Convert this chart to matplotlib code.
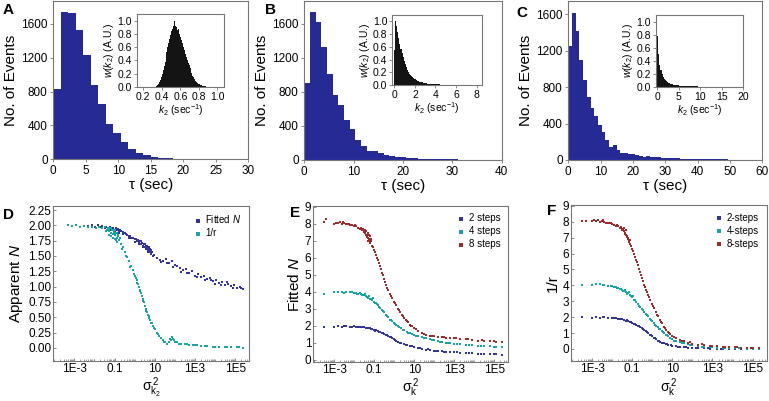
import numpy as np
import matplotlib
matplotlib.use('Agg')
import matplotlib.pyplot as plt
from matplotlib.ticker import LogLocator, FixedLocator, NullFormatter

plt.rcParams['font.family'] = ['Liberation Sans', 'DejaVu Sans']
plt.rcParams['mathtext.fontset'] = 'custom'
plt.rcParams['mathtext.rm'] = 'Liberation Sans'
plt.rcParams['mathtext.it'] = 'Liberation Sans:italic'

# --- top row: dwell time histograms (bin width in sec) ---
BIN_W = 1.15
counts_a = [835, 1737, 1725, 1533, 1227, 874, 659, 423, 306, 208, 122, 71, 47, 31, 20,
            12, 8, 5, 3, 2]
counts_b = [900, 1735, 1620, 1330, 1015, 760, 650, 470, 370, 240, 165, 110, 100, 80, 60,
            47, 40, 30, 24, 20, 17, 14, 12, 10, 8, 7, 6, 5, 5, 4, 3, 3, 2, 2, 2]
counts_c = [1254, 1611, 1411, 1098, 873, 691, 575, 480, 382, 309, 218, 145, 164, 109, 80,
            73, 65, 65, 55, 44, 36, 44, 33, 29, 29, 25, 22, 22, 18, 18, 15, 14, 12, 12,
            10, 10, 9, 8, 8, 7, 7, 6, 6, 5, 5, 5, 4, 4, 4, 3, 3, 3]

# --- insets: k2 distributions (start, bin width, heights) ---
k2_a_start, k2_a_w = 0.34, 0.01
k2_a = [0.01, 0.02, 0.04, 0.07, 0.10, 0.14, 0.19, 0.25, 0.31, 0.38,
        0.45, 0.53, 0.60, 0.66, 0.72, 0.79, 0.84, 0.88, 0.93, 1.00,
        0.92, 0.90, 0.86, 0.88, 0.84, 0.80, 0.76, 0.71, 0.66, 0.61,
        0.56, 0.50, 0.45, 0.40, 0.36, 0.33, 0.29, 0.25, 0.21, 0.17,
        0.14, 0.11, 0.09, 0.07, 0.055, 0.045, 0.035, 0.028, 0.022, 0.016,
        0.012, 0.008, 0.006, 0.004]
k2_b_start, k2_b_w = 0.0, 0.1
k2_b = [0.55, 1.0, 0.93, 0.84, 0.74, 0.65, 0.57, 0.5, 0.44, 0.38,
        0.33, 0.28, 0.24, 0.21, 0.18, 0.16, 0.14, 0.12, 0.11, 0.1,
        0.09, 0.08, 0.07, 0.06, 0.055, 0.05, 0.045, 0.04, 0.035, 0.032,
        0.029, 0.026, 0.023, 0.021, 0.019, 0.017, 0.015, 0.014, 0.013, 0.012,
        0.011, 0.01, 0.009, 0.009, 0.008, 0.007, 0.007, 0.006, 0.006, 0.005,
        0.005, 0.005, 0.004, 0.004, 0.004, 0.003, 0.003, 0.003, 0.003, 0.002]
k2_c_start, k2_c_w = 0.0, 0.25
k2_c = [0.78, 0.5, 0.34, 0.25, 0.19, 0.15, 0.12, 0.1, 0.085, 0.072,
        0.062, 0.054, 0.047, 0.041, 0.036, 0.032, 0.028, 0.025, 0.022, 0.02,
        0.018, 0.016, 0.014, 0.013, 0.012, 0.011, 0.01, 0.009, 0.008, 0.007,
        0.007, 0.006, 0.006, 0.005, 0.005, 0.004, 0.004, 0.004, 0.003, 0.003]

# --- panel D: log10(sigma^2) and values ---
d_fit_logx = [-2.3, -2.1, -1.95, -1.8, -1.7, -1.6, -1.5, -1.45, -1.35, -1.25,
              -1.15, -1.1, -1.0, -0.95, -0.9, -0.85, -0.8, -0.75, -0.7, -0.6,
              -0.5, -0.45, -0.4, -0.3, -0.25, -0.2, -0.1, 0.0, 0.05, 0.1,
              0.15, 0.2, 0.25, 0.3, 0.35, 0.4, 0.45, 0.5, 0.55, 0.6,
              0.62, 0.65, 0.68, 0.7, 0.72, 0.75, 0.78, 0.8, 0.85, 0.95,
              1.1, 1.25, 1.4, 1.55, 1.7, 1.85, 2.0, 2.1, 2.25, 2.4,
              2.55, 2.7, 2.85, 3.0, 3.15, 3.3, 3.45, 3.6, 3.75, 3.9,
              4.05, 4.2, 4.35, 4.5, 4.65, 4.8, 4.95, 5.1, 5.25, 5.4,
              -1.2, -1.0, -0.8, -0.6, -0.3, 0.0, 0.2, 0.3, 0.4, 0.5,
              0.55, 0.6, 0.65, 0.7, 0.75, 0.8, 0.82, 0.85, 0.9, 1.3,
              1.6, 1.9, 2.3, 2.6, 3.1, 3.5, 3.8, 4.0, 4.3, 4.6,
              4.9, 5.3]
d_fit_n = [1.99, 2.01, 1.98, 2.0, 1.97, 1.99, 1.96, 1.98, 1.95, 1.97,
           1.94, 1.96, 1.93, 1.95, 1.92, 1.94, 1.9, 1.93, 1.9, 1.89,
           1.87, 1.86, 1.85, 1.83, 1.82, 1.8, 1.79, 1.77, 1.78, 1.75,
           1.76, 1.72, 1.74, 1.7, 1.71, 1.67, 1.69, 1.65, 1.66, 1.62,
           1.64, 1.6, 1.62, 1.58, 1.6, 1.56, 1.58, 1.55, 1.56, 1.52,
           1.47, 1.44, 1.42, 1.45, 1.38, 1.41, 1.35, 1.33, 1.3, 1.27,
           1.29, 1.22, 1.25, 1.18, 1.2, 1.15, 1.17, 1.12, 1.14, 1.09,
           1.11, 1.06, 1.08, 1.03, 1.05, 1.01, 1.02, 0.98, 0.99, 0.96,
           1.93, 1.91, 1.88, 1.86, 1.8, 1.73, 1.7, 1.74, 1.64, 1.7,
           1.62, 1.67, 1.57, 1.65, 1.62, 1.53, 1.6, 1.57, 1.5, 1.4,
           1.38, 1.32, 1.24, 1.22, 1.16, 1.1, 1.11, 1.05, 1.03, 1.07,
           0.98, 0.97]
d_inv_logx = [-3.3, -3.1, -2.9, -2.7, -2.5, -2.3, -2.1, -1.9, -1.75, -1.6,
              -1.5, -1.4, -1.35, -1.3, -1.25, -1.2, -1.15, -1.1, -1.05, -1.0,
              -0.95, -0.9, -0.85, -0.8, -0.75, -0.7, -0.6, -0.5, -0.4, -0.3,
              -0.2, -0.1, 0.0, 0.05, 0.1, 0.15, 0.2, 0.25, 0.3, 0.35,
              0.4, 0.45, 0.5, 0.55, 0.6, 0.65, 0.7, 0.75, 0.8, 0.9,
              1.0, 1.1, 1.2, 1.3, 1.4, 1.5, 1.6, 1.7, 1.8, 1.9,
              2.0, 2.1, 2.3, 2.5, 2.7, 2.9, 3.1, 3.3, 3.6, 3.9,
              4.2, 4.5, 4.8, 5.1, 5.4,
              -1.45, -1.3, -1.28, -1.2, -1.18, -1.1, -1.08, -1.02, -1.0, -0.98,
              -0.92, -0.9, -0.88, -0.82, -0.65, -0.45, -0.25, -0.05, 0.12, 0.28,
              0.42, 0.58, 0.72, 0.85, 0.95, 1.15, 1.45, 1.75, 1.85, 1.95,
              2.2, 2.6, 3.0, 3.5, 4.0, 4.6, 5.2]
d_inv_r = [2.0, 1.99, 2.0, 1.98, 1.99, 1.97, 1.98, 1.96, 1.97, 1.95,
           1.97, 1.93, 1.96, 1.9, 1.95, 1.88, 1.93, 1.86, 1.91, 1.84,
           1.88, 1.8, 1.85, 1.76, 1.8, 1.7, 1.64, 1.56, 1.48, 1.41,
           1.34, 1.27, 1.18, 1.14, 1.1, 1.05, 1.0, 0.95, 0.9, 0.84,
           0.79, 0.74, 0.68, 0.63, 0.58, 0.53, 0.49, 0.45, 0.41, 0.35,
           0.3, 0.25, 0.2, 0.16, 0.12, 0.09, 0.07, 0.1, 0.13, 0.15,
           0.1, 0.09, 0.07, 0.06, 0.05, 0.05, 0.04, 0.03, 0.03, 0.02,
           0.02, 0.01, 0.01, 0.01, 0.0,
           1.9, 1.94, 1.85, 1.96, 1.82, 1.92, 1.8, 1.88, 1.78, 1.93,
           1.76, 1.87, 1.73, 1.82, 1.62, 1.5, 1.32, 1.2, 1.06, 0.93,
           0.76, 0.6, 0.52, 0.4, 0.32, 0.22, 0.1, 0.14, 0.17, 0.12,
           0.07, 0.06, 0.05, 0.03, 0.02, 0.01, 0.01]

# --- panel E: fitted N for 2/4/8 steps ---
e_2_logx = [-3.5, -3.0, -2.8, -2.6, -2.4, -2.2, -2.0, -1.9, -1.8, -1.7,
            -1.6, -1.5, -1.4, -1.3, -1.2, -1.1, -1.0, -0.9, -0.8, -0.7,
            -0.6, -0.5, -0.4, -0.3, -0.2, -0.1, 0.0, 0.1, 0.2, 0.35,
            0.5, 0.65, 0.8, 1.0, 1.2, 1.4, 1.6, 1.8, 2.0, 2.2,
            2.4, 2.6, 2.8, 3.0, 3.3, 3.6, 3.9, 4.2, 4.5, 4.8,
            5.1, 5.4,
            -2.5, -2.1, -1.65, -1.35, -1.15, -0.95, -0.75, -0.55, -0.35, -0.15,
            0.05, 0.3, 0.6, 0.9, 1.3, 1.7, 2.1, 2.5, 3.15, 3.75,
            4.35, 5.0]
e_2steps = [1.9, 1.92, 1.95, 1.93, 1.96, 1.94, 1.95, 1.93, 1.94, 1.91,
            1.92, 1.89, 1.88, 1.85, 1.83, 1.79, 1.76, 1.72, 1.67, 1.62,
            1.56, 1.5, 1.44, 1.38, 1.32, 1.25, 1.18, 1.12, 1.06, 0.98,
            0.91, 0.85, 0.8, 0.74, 0.68, 0.64, 0.59, 0.56, 0.53, 0.5,
            0.48, 0.46, 0.45, 0.43, 0.41, 0.39, 0.37, 0.35, 0.33, 0.31,
            0.3, 0.28,
            1.97, 1.91, 1.9, 1.84, 1.8, 1.7, 1.62, 1.55, 1.42, 1.3,
            1.14, 1.0, 0.88, 0.78, 0.66, 0.6, 0.51, 0.47, 0.42, 0.38,
            0.34, 0.3]
e_4_logx = [-3.5, -3.0, -2.8, -2.6, -2.4, -2.2, -2.0, -1.9, -1.8, -1.7,
            -1.6, -1.5, -1.4, -1.3, -1.2, -1.1, -1.0, -0.9, -0.8, -0.7,
            -0.6, -0.5, -0.4, -0.3, -0.2, -0.1, 0.0, 0.1, 0.2, 0.35,
            0.5, 0.65, 0.8, 1.0, 1.2, 1.4, 1.6, 1.8, 2.0, 2.2,
            2.4, 2.6, 2.8, 3.0, 3.3, 3.6, 3.9, 4.2, 4.5, 4.8,
            5.1, 5.4,
            -2.5, -2.1, -1.85, -1.65, -1.55, -1.45, -1.35, -1.25, -1.15, -1.05,
            -0.95, -0.85, -0.75, -0.55, -0.35, -0.15, 0.05, 0.25, 0.45, 0.7,
            0.9, 1.1, 1.5, 1.9, 2.3, 2.7, 3.15, 3.75, 4.35, 5.0]
e_4steps = [3.88, 3.98, 3.96, 3.99, 3.95, 3.97, 3.92, 3.94, 3.88, 3.9,
            3.82, 3.78, 3.72, 3.65, 3.58, 3.5, 3.4, 3.3, 3.18, 3.05,
            2.92, 2.78, 2.62, 2.48, 2.35, 2.24, 2.14, 2.04, 1.95, 1.83,
            1.72, 1.62, 1.54, 1.45, 1.36, 1.3, 1.24, 1.18, 1.13, 1.08,
            1.04, 1.0, 0.97, 0.94, 0.9, 0.87, 0.84, 0.81, 0.79, 0.77,
            0.75, 0.73,
            3.93, 3.96, 3.85, 3.88, 3.8, 3.84, 3.7, 3.74, 3.55, 3.62,
            3.35, 3.25, 3.1, 2.85, 2.55, 2.3, 2.1, 1.9, 1.75, 1.58,
            1.5, 1.4, 1.27, 1.15, 1.06, 0.98, 0.92, 0.85, 0.8, 0.74]
e_8_logx = [-3.5, -3.4, -3.0, -2.9, -2.8, -2.7, -2.6, -2.5, -2.4, -2.3,
            -2.2, -2.1, -2.0, -1.9, -1.8, -1.7, -1.6, -1.5, -1.45, -1.4,
            -1.35, -1.3, -1.25, -1.2, -1.1, -1.0, -0.9, -0.8, -0.7, -0.6,
            -0.5, -0.4, -0.3, -0.2, -0.1, 0.0, 0.1, 0.2, 0.3, 0.4,
            0.5, 0.6, 0.7, 0.8, 0.9, 1.0, 1.2, 1.4, 1.6, 1.8,
            2.0, 2.2, 2.4, 2.6, 2.8, 3.0, 3.3, 3.6, 3.9, 4.2,
            4.5, 4.8, 5.1, 5.4,
            -2.55, -2.25, -1.95, -1.65, -1.55, -1.5, -1.45, -1.4, -1.38, -1.32,
            -1.3, -1.28, -1.22, -1.2, -1.18, -1.15, -1.05, -0.95, -0.85, -0.75,
            -0.65, -0.55, -0.45, -0.35, -0.15, 0.05, 0.25, 0.45, 0.65, 0.85,
            1.1, 1.5, 1.9, 2.5, 3.1, 3.7, 4.4, 5.0]
e_8steps = [8.12, 8.24, 8.0, 8.06, 8.02, 8.08, 7.98, 8.04, 7.95, 7.99,
            7.9, 7.93, 7.84, 7.86, 7.75, 7.7, 7.62, 7.5, 7.45, 7.35,
            7.3, 7.15, 7.1, 6.95, 6.7, 6.45, 6.15, 5.85, 5.5, 5.12,
            4.75, 4.4, 4.1, 3.85, 3.62, 3.4, 3.18, 2.98, 2.8, 2.62,
            2.46, 2.32, 2.18, 2.06, 1.95, 1.86, 1.7, 1.56, 1.46, 1.4,
            1.36, 1.33, 1.3, 1.28, 1.26, 1.24, 1.21, 1.18, 1.15, 1.12,
            1.1, 1.08, 1.06, 1.04,
            8.1, 7.97, 7.9, 7.72, 7.68, 7.65, 7.6, 7.55, 7.2, 7.45,
            7.0, 7.35, 7.25, 6.85, 7.12, 7.0, 6.6, 6.3, 6.0, 5.7,
            5.3, 4.95, 4.55, 4.2, 3.75, 3.3, 2.9, 2.55, 2.25, 2.0,
            1.8, 1.52, 1.4, 1.32, 1.26, 1.2, 1.14, 1.09]

# --- panel F: 1/r for 2/4/8 steps ---
f_2_logx = [-3.5, -3.0, -2.8, -2.6, -2.4, -2.2, -2.0, -1.9, -1.8, -1.7,
            -1.6, -1.5, -1.4, -1.3, -1.2, -1.1, -1.0, -0.9, -0.8, -0.7,
            -0.6, -0.5, -0.4, -0.3, -0.2, -0.1, 0.0, 0.1, 0.2, 0.3,
            0.4, 0.5, 0.6, 0.7, 0.8, 1.0, 1.2, 1.4, 1.6, 1.8,
            2.0, 2.3, 2.6, 2.9, 3.2, 3.5, 3.8, 4.1, 4.4, 4.7,
            5.0, 5.3,
            -2.45, -1.95, -1.55, -1.25, -1.05, -0.85, -0.65, -0.45, -0.25, -0.05,
            0.15, 0.35, 0.55, 0.75, 0.95, 1.3, 1.7, 2.2, 2.8, 3.4]
f_2steps = [1.99, 1.97, 1.99, 1.96, 1.98, 1.95, 1.96, 1.93, 1.94, 1.9,
            1.89, 1.86, 1.83, 1.78, 1.74, 1.7, 1.65, 1.59, 1.53, 1.46,
            1.38, 1.3, 1.2, 1.1, 1.0, 0.9, 0.8, 0.7, 0.6, 0.52,
            0.46, 0.4, 0.35, 0.3, 0.26, 0.2, 0.16, 0.12, 0.1, 0.08,
            0.06, 0.04, 0.03, 0.02, 0.02, 0.01, 0.01, 0.01, 0.0, 0.0,
            0.0, 0.0,
            2.0, 1.97, 1.88, 1.8, 1.7, 1.58, 1.42, 1.25, 1.05, 0.88,
            0.66, 0.5, 0.38, 0.28, 0.22, 0.15, 0.1, 0.05, 0.03, 0.02]
f_4_logx = [-3.5, -3.0, -2.8, -2.6, -2.4, -2.2, -2.0, -1.9, -1.8, -1.7,
            -1.6, -1.5, -1.4, -1.3, -1.2, -1.1, -1.0, -0.9, -0.8, -0.7,
            -0.6, -0.5, -0.4, -0.3, -0.2, -0.1, 0.0, 0.1, 0.2, 0.3,
            0.4, 0.5, 0.6, 0.7, 0.8, 1.0, 1.2, 1.4, 1.6, 1.8,
            2.0, 2.3, 2.6, 2.9, 3.2, 3.5, 3.8, 4.1, 4.4, 4.7,
            5.0, 5.3,
            -2.45, -2.05, -1.75, -1.55, -1.45, -1.35, -1.25, -1.15, -1.05, -0.95,
            -0.85, -0.65, -0.45, -0.25, -0.05, 0.15, 0.35, 0.55, 0.75, 0.9,
            1.1, 1.5, 1.9, 2.5, 3.0, 3.6, 4.3]
f_4steps = [4.0, 4.0, 4.08, 4.1, 4.02, 3.98, 3.94, 3.9, 3.87, 3.82,
            3.78, 3.72, 3.66, 3.58, 3.5, 3.38, 3.25, 3.1, 2.95, 2.8,
            2.65, 2.5, 2.35, 2.2, 2.05, 1.9, 1.75, 1.6, 1.47, 1.35,
            1.23, 1.12, 1.01, 0.9, 0.8, 0.62, 0.5, 0.41, 0.35, 0.28,
            0.22, 0.17, 0.13, 0.1, 0.08, 0.06, 0.05, 0.04, 0.03, 0.02,
            0.02, 0.01,
            4.05, 3.95, 3.85, 3.76, 3.62, 3.68, 3.48, 3.55, 3.3, 3.35,
            3.05, 2.72, 2.42, 2.12, 1.82, 1.52, 1.28, 1.05, 0.85, 0.7,
            0.52, 0.37, 0.25, 0.14, 0.1, 0.06, 0.03]
f_8_logx = [-3.5, -3.3, -3.0, -2.9, -2.8, -2.7, -2.6, -2.5, -2.4, -2.3,
            -2.2, -2.1, -2.0, -1.9, -1.8, -1.7, -1.6, -1.5, -1.45, -1.4,
            -1.35, -1.3, -1.25, -1.2, -1.15, -1.1, -1.0, -0.9, -0.8, -0.7,
            -0.6, -0.5, -0.4, -0.3, -0.2, -0.1, 0.0, 0.1, 0.2, 0.3,
            0.4, 0.5, 0.6, 0.7, 0.8, 0.9, 1.0, 1.2, 1.4, 1.6,
            1.8, 2.0, 2.3, 2.6, 2.9, 3.2, 3.5, 3.8, 4.1, 4.4,
            4.7, 5.0, 5.3,
            -2.45, -2.05, -1.75, -1.55, -1.5, -1.42, -1.38, -1.33, -1.28, -1.22,
            -1.18, -1.12, -1.05, -0.95, -0.85, -0.75, -0.65, -0.55, -0.45, -0.35,
            -0.25, -0.15, 0.05, 0.25, 0.45, 0.65, 0.85, 1.1, 1.5, 1.9,
            2.5, 3.0, 3.6, 4.2, 4.9]
f_8steps = [8.02, 8.05, 8.03, 8.1, 8.07, 8.12, 8.0, 8.05, 7.98, 7.95,
            7.92, 7.9, 7.85, 7.8, 7.75, 7.72, 7.62, 7.55, 7.45, 7.4,
            7.3, 7.15, 7.05, 6.9, 6.78, 6.62, 6.3, 5.98, 5.62, 5.25,
            4.85, 4.45, 4.05, 3.7, 3.38, 3.1, 2.8, 2.55, 2.3, 2.05,
            1.82, 1.6, 1.38, 1.2, 1.05, 0.93, 0.83, 0.68, 0.57, 0.48,
            0.4, 0.33, 0.27, 0.22, 0.19, 0.16, 0.13, 0.11, 0.09, 0.07,
            0.06, 0.05, 0.04,
            8.08, 7.95, 7.8, 7.68, 7.5, 7.6, 7.25, 7.45, 7.1, 7.0,
            6.72, 6.85, 6.5, 6.15, 5.8, 5.45, 5.05, 4.65, 4.25, 3.9,
            3.55, 3.25, 2.68, 2.15, 1.7, 1.3, 1.0, 0.78, 0.52, 0.44,
            0.3, 0.21, 0.15, 0.1, 0.06]

log_ticks = [1e-3, 1e-1, 1e1, 1e3, 1e5]
log_tick_labels = ['1E-3', '0.1', '10', '1E3', '1E5']

BAR_BLUE = '#262a94'
BLUE = '#34349e'
TEAL = '#18a4a4'
RED = '#9c2b2b'
FRAME = '#777777'


def style_frame(ax, direction='out'):
    for sp in ax.spines.values():
        sp.set_color(FRAME)
        sp.set_linewidth(0.8)
    ax.tick_params(direction=direction, length=2.5, width=0.6, color=FRAME,
                   labelsize=8.5, pad=1.5)


def draw_hist(ax, counts, xmax, xstep, ytop):
    edges = np.arange(len(counts)) * BIN_W
    ax.bar(edges, counts, width=BIN_W, align='edge', color=BAR_BLUE, linewidth=0)
    ax.set_xlim(0, xmax)
    ax.set_ylim(0, ytop)
    ax.set_xticks(np.arange(0, xmax + 1, xstep))
    ax.set_yticks([0, 400, 800, 1200, 1600])
    ax.set_xlabel('τ (sec)', fontsize=11, labelpad=1)
    ax.set_ylabel('No. of Events', fontsize=11, labelpad=2)
    style_frame(ax)


def draw_inset(ax, start, width, heights, xlim, xticks):
    edges = start + np.arange(len(heights)) * width
    ax.bar(edges, heights, width=width, align='edge', color='#141414',
           linewidth=0)
    ax.set_xlim(*xlim)
    ax.set_ylim(0, 1.1)
    ax.set_xticks(xticks)
    ax.set_yticks([0.0, 0.2, 0.4, 0.6, 0.8, 1.0])
    ax.yaxis.set_major_formatter(plt.FormatStrFormatter('%.1f'))
    ax.set_xlabel(r'$k_2$ (sec$^{-1}$)', fontsize=7.5, labelpad=0.5)
    ax.set_ylabel(r'$w(k_2)$ (A.U.)', fontsize=7.5, labelpad=1)
    style_frame(ax)
    ax.tick_params(labelsize=7.5, length=2)


def draw_scatter(ax, series, ylim, yticks, ylabel, xlabel):
    for logx, vals, color, label in series:
        ax.scatter(10 ** np.array(logx), vals, s=2.5, marker='s', color=color,
                   linewidths=0, label=label)
    ax.set_xscale('log')
    ax.set_xlim(9e-5, 5e5)
    ax.set_ylim(*ylim)
    ax.xaxis.set_major_locator(FixedLocator(log_ticks))
    ax.set_xticklabels(log_tick_labels)
    ax.xaxis.set_minor_locator(LogLocator(base=10, subs=np.arange(1, 10),
                                          numticks=30))
    ax.xaxis.set_minor_formatter(NullFormatter())
    ax.set_yticks(yticks)
    ax.set_ylabel(ylabel, fontsize=11, labelpad=2)
    ax.set_xlabel(xlabel, fontsize=10, labelpad=0.5)
    style_frame(ax, direction='in')
    ax.tick_params(which='minor', direction='in', length=1.5, width=0.5,
                   color=FRAME)
    ax.legend(loc='upper right', frameon=False, fontsize=7, markerscale=1.8,
              handletextpad=0.2, labelspacing=0.3, borderaxespad=0.4,
              handlelength=1.2)


fig = plt.figure(figsize=(7.69, 4.01), dpi=100)

ax_a = fig.add_axes([0.0693, 0.6027, 0.2538, 0.3948])
ax_b = fig.add_axes([0.3957, 0.601, 0.2567, 0.3965])
ax_c = fig.add_axes([0.739, 0.601, 0.2523, 0.3965])
draw_hist(ax_a, counts_a, 30, 5, 1870)
draw_hist(ax_b, counts_b, 40, 10, 1870)
draw_hist(ax_c, counts_c, 60, 10, 1745)

in_a = fig.add_axes([0.178, 0.7838, 0.1131, 0.1805])
in_b = fig.add_axes([0.5101, 0.788, 0.1163, 0.1746])
in_c = fig.add_axes([0.853, 0.7838, 0.1135, 0.1788])
draw_inset(in_a, k2_a_start, k2_a_w, k2_a, (0.13, 1.07), [0.2, 0.4, 0.6, 0.8, 1.0])
draw_inset(in_b, k2_b_start, k2_b_w, k2_b, (-0.2, 8.5), [0, 2, 4, 6, 8])
draw_inset(in_c, k2_c_start, k2_c_w, k2_c, (-0.3, 20), [0, 5, 10, 15, 20])

ax_d = fig.add_axes([0.0693, 0.099, 0.2549, 0.388])
ax_e = fig.add_axes([0.4074, 0.097, 0.2536, 0.39])
ax_f = fig.add_axes([0.7425, 0.099, 0.2545, 0.39])

draw_scatter(ax_d, [(d_fit_logx, d_fit_n, BLUE, r'Fitted $N$'),
                    (d_inv_logx, d_inv_r, TEAL, '1/r')],
             (-0.22, 2.32), np.arange(0, 2.26, 0.25),
             r'Apparent $N$', r'$\mathregular{σ_{k_2}^{\,2}}$')
ax_d.yaxis.set_major_formatter(plt.FormatStrFormatter('%.2f'))

draw_scatter(ax_e, [(e_2_logx, e_2steps, BLUE, '2 steps'),
                    (e_4_logx, e_4steps, TEAL, '4 steps'),
                    (e_8_logx, e_8steps, RED, '8 steps')],
             (-0.15, 9.05), range(0, 10), r'Fitted $N$',
             r'$\mathregular{σ_k^{\,2}}$')

draw_scatter(ax_f, [(f_2_logx, f_2steps, BLUE, '2-steps'),
                    (f_4_logx, f_4steps, TEAL, '4-steps'),
                    (f_8_logx, f_8steps, RED, '8-steps')],
             (-0.78, 9.06), range(0, 10), '1/r',
             r'$\mathregular{σ_k^{\,2}}$')

for letter, x, y in [('A', 0.004, 0.975), ('B', 0.345, 0.975), ('C', 0.672, 0.968),
                     ('D', 0.004, 0.465), ('E', 0.377, 0.47), ('F', 0.711, 0.475)]:
    fig.text(x, y, letter, fontsize=11, fontweight='bold', va='center')

fig.savefig('out.png', dpi=100)
